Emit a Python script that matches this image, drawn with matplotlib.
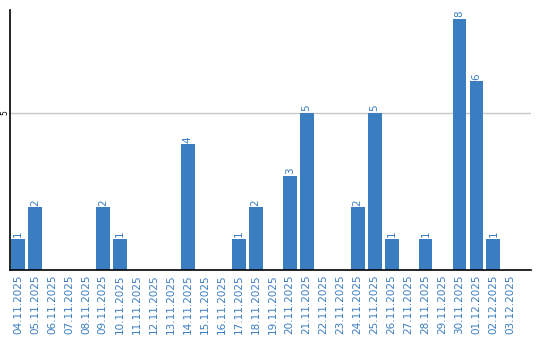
import matplotlib
matplotlib.use('Agg')
import matplotlib.pyplot as plt

dates=['04.11.2025','05.11.2025','06.11.2025','07.11.2025','08.11.2025','09.11.2025',
       '10.11.2025','11.11.2025','12.11.2025','13.11.2025','14.11.2025','15.11.2025',
       '16.11.2025','17.11.2025','18.11.2025','19.11.2025','20.11.2025','21.11.2025',
       '22.11.2025','23.11.2025','24.11.2025','25.11.2025','26.11.2025','27.11.2025',
       '28.11.2025','29.11.2025','30.11.2025','01.12.2025','02.12.2025','03.12.2025']
counts=[1,2,0,0,0,2,1,0,0,0,4,0,0,1,2,0,3,5,0,0,2,5,1,0,1,0,8,6,1,0]
yticks=[5]

blue='#3a7dc1'
fig=plt.figure(figsize=(5.4,3.4),dpi=100)
ax=fig.add_axes([0.0194,0.206,0.9636,0.765])
x=list(range(len(dates)))
ax.bar(x,counts,width=0.82,color=blue,zorder=2)
for i in range(len(counts)):
    if counts[i]>0:
        ax.text(x[i],counts[i]+0.05,str(counts[i]),rotation=90,ha='center',va='bottom',
                color=blue,fontsize=7.5)
ax.set_xlim(-0.44,30.2)
ax.set_ylim(0,8.28)
ax.set_xticks(x)
ax.set_xticklabels(dates,rotation=90,color=blue,fontsize=7.5)
ax.set_yticks(yticks)
ax.set_yticklabels([str(v) for v in yticks],rotation=90,fontsize=5.5,va='center')
ax.tick_params(axis='x',length=0,pad=3)
ax.tick_params(axis='y',length=0,pad=0.5)
ax.yaxis.grid(True,color='#c8c8c8',linewidth=1,zorder=0)
ax.spines['top'].set_visible(False)
ax.spines['right'].set_visible(False)
ax.spines['left'].set_linewidth(1.2)
ax.spines['bottom'].set_linewidth(1.2)
plt.savefig('out.png')
